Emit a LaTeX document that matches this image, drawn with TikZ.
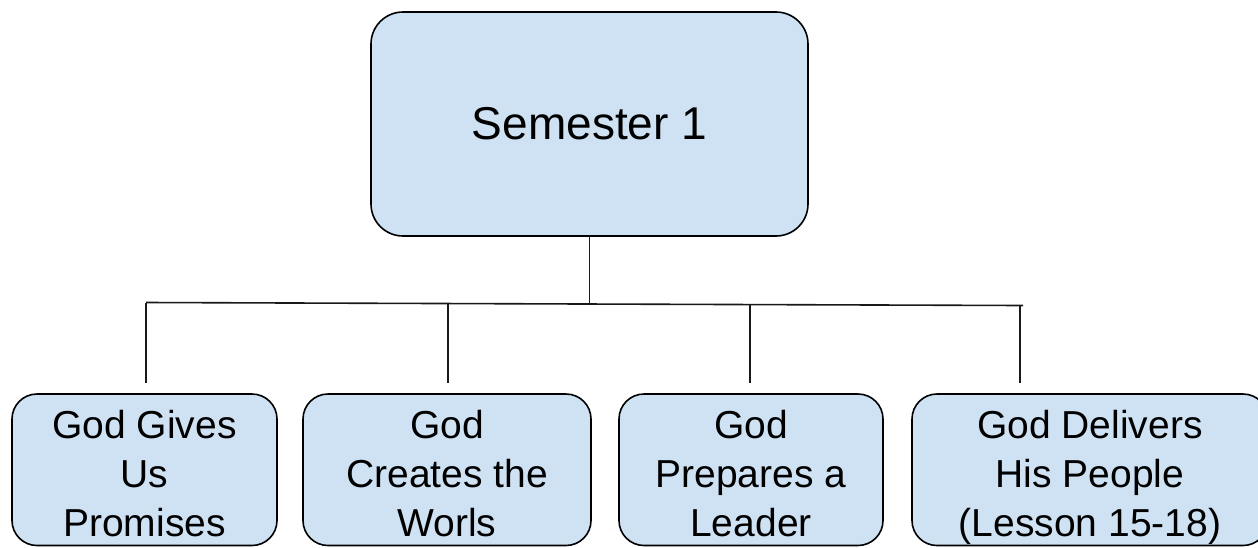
\documentclass[tikz,border=0pt]{standalone}
\usepackage{fontspec}
\setmainfont{Liberation Sans}
\definecolor{boxblue}{HTML}{CFE2F3}
\begin{document}
\begin{tikzpicture}[x=1pt,y=-1pt,
  topbox/.style={draw=black,line width=1.6pt,fill=boxblue,rounded corners=32pt,
    minimum width=437pt,minimum height=224pt,inner sep=0pt,font=\fontsize{46}{55}\selectfont},
  lessonbox/.style={draw=black,line width=1.6pt,fill=boxblue,rounded corners=25pt,
    minimum height=151.5pt,inner sep=0pt,align=center,text height=142.7pt,text depth=8.8pt,
    font=\fontsize{39}{49}\selectfont},
  link/.style={line width=1.6pt,black!90}]
\useasboundingbox (0,0) rectangle (1258,547);
\node[topbox] (sem) at (589.5,124) {Semester 1};
\node[lessonbox,minimum width=265pt] (promises) at (144.5,469.75) {God Gives\\Us\\Promises};
\node[lessonbox,minimum width=288pt] (creates) at (447,469.75) {God\\Creates the\\Worls};
\node[lessonbox,minimum width=264pt] (leader) at (751,469.75) {God\\Prepares a\\Leader};
\node[lessonbox,minimum width=356pt] (delivers) at (1090,469.75) {God Delivers\\His People\\(Lesson 15-18)};
\coordinate (hubL) at (146,302.5);
\coordinate (hubR) at (1023,305.5);
\coordinate (hub) at (589.5,304);
\coordinate (drop1) at (146,302.5);
\coordinate (drop2) at (448,303.5);
\coordinate (drop3) at (750,304.6);
\coordinate (drop4) at (1020,305.4);
\draw[link] (sem.south) -- (hub);
\draw[link] (hubL) -- (hubR);
\draw[link,shorten >=10pt] (drop1) -- (drop1 |- promises.north);
\draw[link,shorten >=10pt] (drop2) -- (drop2 |- creates.north);
\draw[link,shorten >=10pt] (drop3) -- (drop3 |- leader.north);
\draw[link,shorten >=10pt] (drop4) -- (drop4 |- delivers.north);
\end{tikzpicture}
\end{document}
